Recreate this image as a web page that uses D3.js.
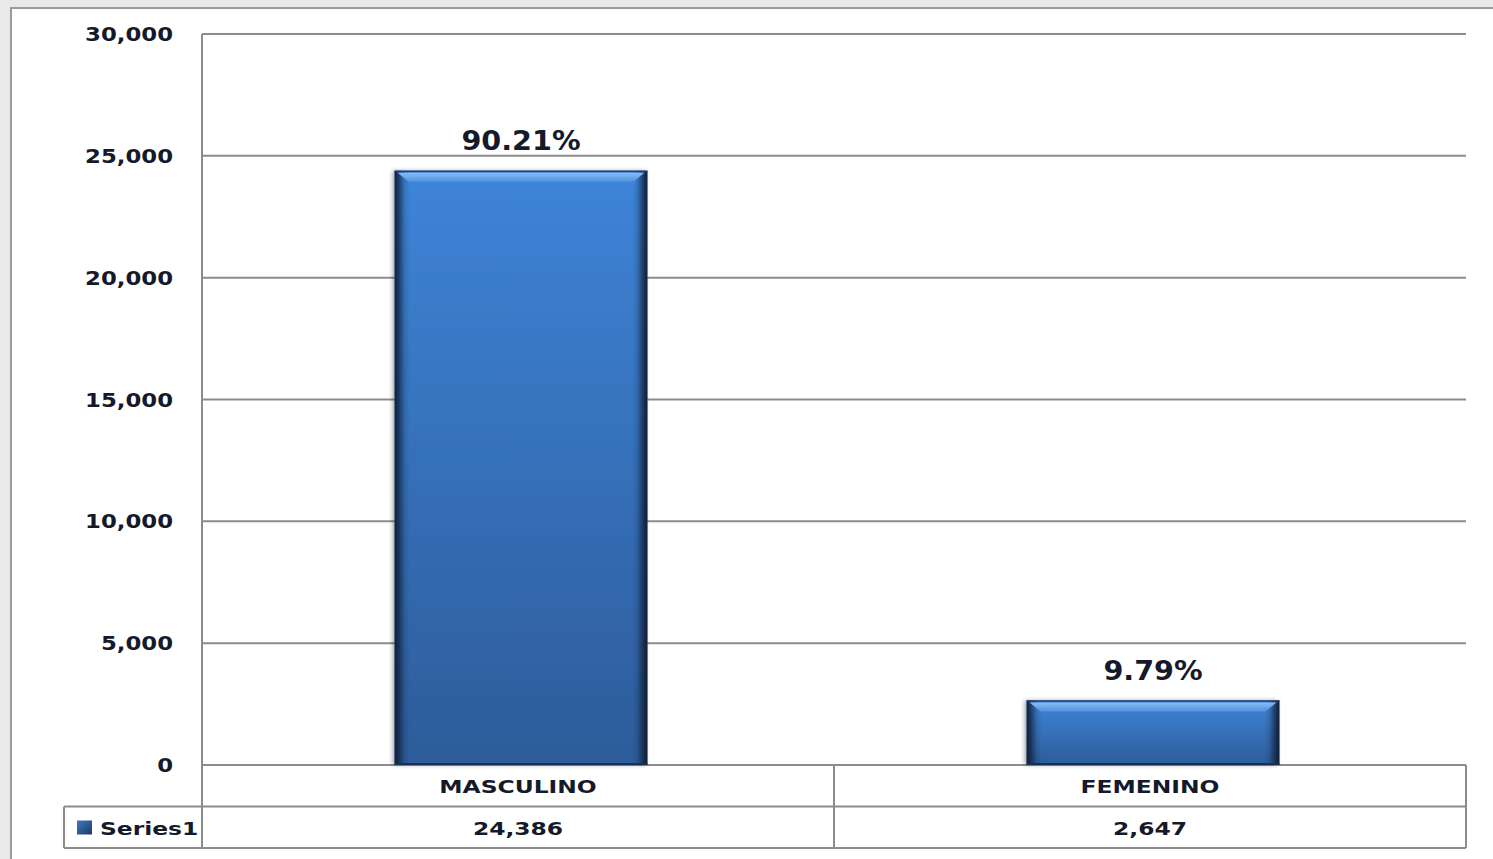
<!DOCTYPE html>
<html>
<head>
<meta charset="utf-8">
<script src="https://cdn.jsdelivr.net/npm/d3@7"></script>
<style>
	html, body { margin: 0; padding: 0; background: #e9e9e9; }
	svg { display: block; }
	text { font-family: "DejaVu Sans", Verdana, sans-serif; font-weight: bold; fill: #141a2a; }
</style>
</head>
<body>
<svg id="viz"></svg>
<script>
// data
const categories = ["MASCULINO", "FEMENINO"];
const values = [24386, 2647];
const percentLabels = ["90.21%", "9.79%"];
const seriesName = "Series1";
const yTicks = [0, 5000, 10000, 15000, 20000, 25000, 30000];

const width = 1493;
const height = 859;

const margin = { top: 34, right: 27, bottom: 94, left: 202 };
const plotWidth = width - margin.left - margin.right;
const plotHeight = height - margin.top - margin.bottom;
const rowH = 41.5;

const svg = d3.select("svg#viz")
	.attr("width", width)
	.attr("height", height);

let translate = function(x, y) {
	return "translate(" + x + "," + y + ")";
};

// stretched text helper (the original text is a bit wide)
let stretchText = function(g, x, y, str, size, sx, anchor) {
	g.append("text")
		.attr("transform", translate(x, y) + " scale(" + sx + ",1)")
		.attr("text-anchor", anchor || "middle")
		.attr("font-size", size)
		.text(str);
};

// gradients
const defs = svg.append("defs");
const body = defs.append("linearGradient").attr("id", "bodyGrad")
	.attr("x1", 0).attr("y1", 0).attr("x2", 0).attr("y2", 1);
body.append("stop").attr("offset", "0%").attr("stop-color", "#3e84d8");
body.append("stop").attr("offset", "100%").attr("stop-color", "#2d5c9a");

const edge = defs.append("linearGradient").attr("id", "edgeGrad")
	.attr("x1", 0).attr("y1", 0).attr("x2", 1).attr("y2", 0);
[[0, 0.95], [0.015, 0.7], [0.04, 0.15], [0.06, 0], [0.94, 0], [0.96, 0.15], [0.985, 0.7], [1, 0.95]]
	.forEach(([o, a]) => edge.append("stop").attr("offset", o).attr("stop-color", "#0d1a30").attr("stop-opacity", a));

const bevel = defs.append("linearGradient").attr("id", "bevelGrad")
	.attr("x1", 0).attr("y1", 0).attr("x2", 0).attr("y2", 1);
bevel.append("stop").attr("offset", "0%").attr("stop-color", "#86bdf5");
bevel.append("stop").attr("offset", "100%").attr("stop-color", "#4f91dd");

const keyGrad = defs.append("linearGradient").attr("id", "keyGrad")
	.attr("x1", 0).attr("y1", 0).attr("x2", 1).attr("y2", 1);
keyGrad.append("stop").attr("offset", "0%").attr("stop-color", "#3f78bf");
keyGrad.append("stop").attr("offset", "100%").attr("stop-color", "#1c3a66");

const shadow = defs.append("filter").attr("id", "shadow")
	.attr("x", "-10%").attr("y", "-10%").attr("width", "120%").attr("height", "120%");
shadow.append("feDropShadow").attr("dx", -2).attr("dy", 0).attr("stdDeviation", 2)
	.attr("flood-color", "#000").attr("flood-opacity", 0.35);

// chart area
svg.append("rect")
	.attr("x", 11).attr("y", 8)
	.attr("width", width).attr("height", height)
	.attr("fill", "#fff")
	.attr("stroke", "#9a9a9a")
	.attr("stroke-width", 2);

const plot = svg.append("g").attr("id", "plot")
	.attr("transform", translate(margin.left, margin.top));

const x = d3.scaleBand()
	.domain(categories)
	.range([0, plotWidth]);

const y = d3.scaleLinear()
	.domain([0, 30000])
	.range([plotHeight, 0]);

const barW = x.bandwidth() * 0.4;

drawGrid();
drawBars();
drawTable();

function drawGrid() {
	const grid = plot.append("g").attr("id", "grid");
	grid.selectAll("line")
		.data(yTicks)
		.join("line")
		.attr("x1", 0).attr("x2", plotWidth)
		.attr("y1", d => y(d)).attr("y2", d => y(d))
		.attr("stroke", "#8c8c8c")
		.attr("stroke-width", 2);

	plot.append("line")
		.attr("x1", 0).attr("x2", 0)
		.attr("y1", 0).attr("y2", plotHeight + 2 * rowH)
		.attr("stroke", "#8c8c8c")
		.attr("stroke-width", 2);

	const labels = plot.append("g").attr("id", "y-axis");
	yTicks.forEach(t => {
		stretchText(labels, -29, y(t) + 7, d3.format(",")(t), 19, 1.2, "end");
	});
}

function drawBars() {
	const bars = plot.append("g").attr("id", "bars")
		.selectAll("g")
		.data(categories)
		.join("g")
		.attr("transform", d => translate(x(d) + x.bandwidth() / 2 - barW / 2 + 3, 0));

	bars.append("rect")
		.attr("y", (d, i) => y(values[i]))
		.attr("width", barW)
		.attr("height", (d, i) => plotHeight - y(values[i]))
		.attr("fill", "url(#bodyGrad)")
		.attr("filter", "url(#shadow)");

	bars.append("rect")
		.attr("y", (d, i) => y(values[i]))
		.attr("width", barW)
		.attr("height", (d, i) => plotHeight - y(values[i]))
		.attr("fill", "url(#edgeGrad)");

	// top bevel
	bars.append("path")
		.attr("d", (d, i) => {
			const t = y(values[i]);
			return "M3," + (t + 2) + "L" + (barW - 3) + "," + (t + 2) +
				"L" + (barW - 14) + "," + (t + 11) + "L14," + (t + 11) + "Z";
		})
		.attr("fill", "url(#bevelGrad)");

	bars.append("line")
		.attr("x1", 0).attr("x2", barW)
		.attr("y1", (d, i) => y(values[i]) + 0.5)
		.attr("y2", (d, i) => y(values[i]) + 0.5)
		.attr("stroke", "#243f66")
		.attr("stroke-width", 1.5);

	bars.append("line")
		.attr("x1", 0).attr("x2", barW)
		.attr("y1", plotHeight - 1).attr("y2", plotHeight - 1)
		.attr("stroke", "#1a2f50")
		.attr("stroke-width", 2);

	bars.each(function(d, i) {
		stretchText(d3.select(this), barW / 2, y(values[i]) - 21, percentLabels[i], 26, 1.1);
	});
}

function drawTable() {
	const table = plot.append("g").attr("id", "table")
		.attr("transform", translate(0, plotHeight));
	const stroke = "#8c8c8c";

	// horizontal rules
	table.append("line")
		.attr("x1", -138).attr("x2", plotWidth)
		.attr("y1", rowH).attr("y2", rowH)
		.attr("stroke", stroke).attr("stroke-width", 2);
	table.append("line")
		.attr("x1", -138).attr("x2", plotWidth)
		.attr("y1", 2 * rowH).attr("y2", 2 * rowH)
		.attr("stroke", stroke).attr("stroke-width", 2);

	// vertical rules
	table.append("line")
		.attr("x1", -138).attr("x2", -138)
		.attr("y1", rowH).attr("y2", 2 * rowH)
		.attr("stroke", stroke).attr("stroke-width", 2);
	table.selectAll("line.col")
		.data(categories)
		.join("line")
		.attr("class", "col")
		.attr("x1", d => x(d) + x.bandwidth()).attr("x2", d => x(d) + x.bandwidth())
		.attr("y1", 0).attr("y2", 2 * rowH)
		.attr("stroke", stroke).attr("stroke-width", 2);

	categories.forEach((c, i) => {
		const cx = x(c) + x.bandwidth() / 2;
		stretchText(table, cx, 28, c, 18, 1.3);
		stretchText(table, cx, rowH + 28, d3.format(",")(values[i]), 18, 1.3);
	});

	// legend key
	table.append("rect")
		.attr("x", -125).attr("y", rowH + 14)
		.attr("width", 15).attr("height", 14)
		.attr("fill", "url(#keyGrad)");
	stretchText(table, -102, rowH + 28, seriesName, 18, 1.3, "start");
}
</script>
</body>
</html>
